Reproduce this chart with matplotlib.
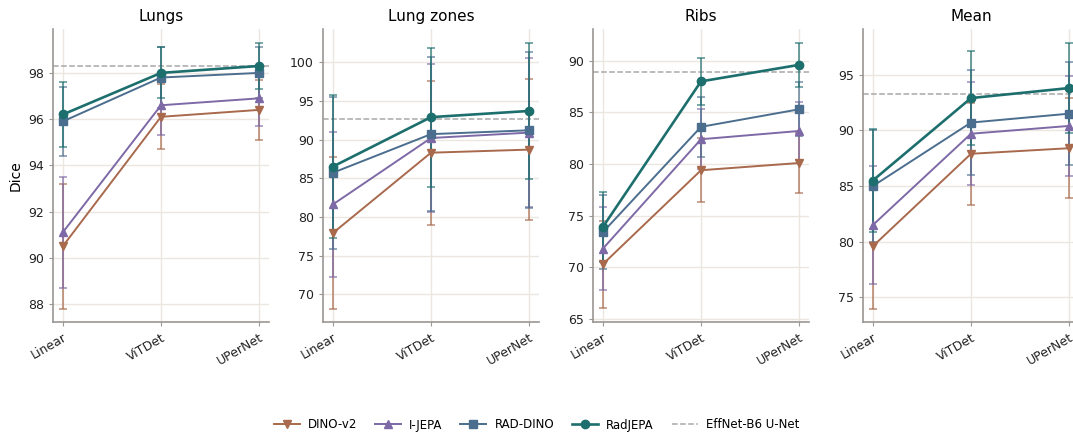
import numpy as np
import matplotlib
matplotlib.use("Agg")
import matplotlib.pyplot as plt
from matplotlib.lines import Line2D

# ----------------------------
# Data
# ----------------------------
heads = ["Linear", "ViTDet", "UPerNet"]
tasks = ["Lungs", "Lung zones", "Ribs", "Mean"]
models = ["DINO-v2", "I-JEPA", "RAD-DINO", "RadJEPA"]

# mean Dice per task: rows = models, cols = heads
lungs_mean = [[90.5, 96.1, 96.4], [91.1, 96.6, 96.9], [95.9, 97.8, 98.0], [96.2, 98.0, 98.3]]
lungs_err = [[2.7, 1.4, 1.3], [2.4, 1.3, 1.2], [1.5, 1.3, 1.1], [1.4, 1.1, 1.0]]

zones_mean = [[77.9, 88.3, 88.7], [81.6, 90.2, 90.9], [85.7, 90.7, 91.2], [86.5, 92.9, 93.7]]
zones_err = [[9.8, 9.3, 9.1], [9.4, 9.6, 9.6], [9.8, 10.0, 10.1], [9.2, 9.0, 8.8]]

ribs_mean = [[70.3, 79.4, 80.1], [71.8, 82.4, 83.2], [73.4, 83.6, 85.3], [73.9, 88.0, 89.6]]
ribs_err = [[4.2, 3.1, 2.9], [4.0, 2.9, 2.8], [3.6, 2.9, 2.6], [3.4, 2.3, 2.1]]

avg_mean = [[79.6, 87.9, 88.4], [81.5, 89.7, 90.4], [85.0, 90.7, 91.5], [85.5, 92.9, 93.8]]
avg_err = [[5.6, 4.6, 4.5], [5.3, 4.6, 4.5], [5.0, 4.7, 4.6], [4.6, 4.2, 4.0]]

# EffNet-B6 U-Net reference per task
baseline = [98.3, 92.7, 88.9, 93.3]

means = [lungs_mean, zones_mean, ribs_mean, avg_mean]
errs = [lungs_err, zones_err, ribs_err, avg_err]

ylims = [(87.22, 99.9), (66.4, 104.3), (64.71, 93.07), (72.8, 99.1)]
yticks = [[88, 90, 92, 94, 96, 98], [70, 75, 80, 85, 90, 95, 100],
          [65, 70, 75, 80, 85, 90], [75, 80, 85, 90, 95]]

colors = ["#a8694c", "#7d69a6", "#4b6e8e", "#1d6f6e"]
markers = ["v", "^", "s", "o"]
lws = [1.4, 1.4, 1.4, 1.9]

grid_col = "#ebe6df"
spine_col = "#9a9692"


def main():
    fig = plt.figure(figsize=(10.73, 4.32), dpi=100)
    W, H = 1073.0, 432.0
    x = np.arange(len(heads))

    for k, task in enumerate(tasks):
        left = 53 + 270 * k
        ax = fig.add_axes([left / W, (H - 322) / H, 216 / W, 293 / H])
        ax.set_axisbelow(True)
        ax.grid(True, color=grid_col, linewidth=1.0)

        for m, name in enumerate(models):
            mu = np.array(means[k][m])
            sd = np.array(errs[k][m])
            ax.errorbar(x, mu, yerr=sd, fmt="none", ecolor=colors[m],
                        elinewidth=1.3, capsize=3, capthick=1.2, alpha=0.7, zorder=2)
            ax.plot(x, mu, color=colors[m], marker=markers[m], markersize=6,
                    linewidth=lws[m], zorder=3 + m)

        ax.axhline(baseline[k], color="#a8a8a8", linestyle="--", linewidth=1.1, zorder=1.5)

        ax.set_xlim(-0.1, 2.1)
        ax.set_ylim(*ylims[k])
        ax.set_yticks(yticks[k])
        ax.set_xticks(x)
        ax.set_xticklabels(heads, rotation=30, ha="right", rotation_mode="anchor")
        ax.set_title(task, fontsize=11, pad=6)
        ax.tick_params(axis="both", labelsize=9, colors="#222222",
                       length=3, width=0.8, color=spine_col)
        for s in ["top", "right"]:
            ax.spines[s].set_visible(False)
        for s in ["left", "bottom"]:
            ax.spines[s].set_color(spine_col)
            ax.spines[s].set_linewidth(1.2)
        if k == 0:
            ax.set_ylabel("Dice", fontsize=10)

    handles = [Line2D([], [], color=colors[m], marker=markers[m], markersize=6,
                      linewidth=lws[m]) for m in range(len(models))]
    handles.append(Line2D([], [], color="#a8a8a8", linestyle="--", linewidth=1.1))
    labels = models + ["EffNet-B6 U-Net"]
    fig.legend(handles, labels, loc="center", bbox_to_anchor=(0.5, 1 - 425 / H),
               ncol=5, frameon=False, fontsize=8.5, columnspacing=1.5,
               handlelength=2.2, handletextpad=0.7)

    fig.savefig("out.png", dpi=100)
    plt.close(fig)


if __name__ == "__main__":
    main()
